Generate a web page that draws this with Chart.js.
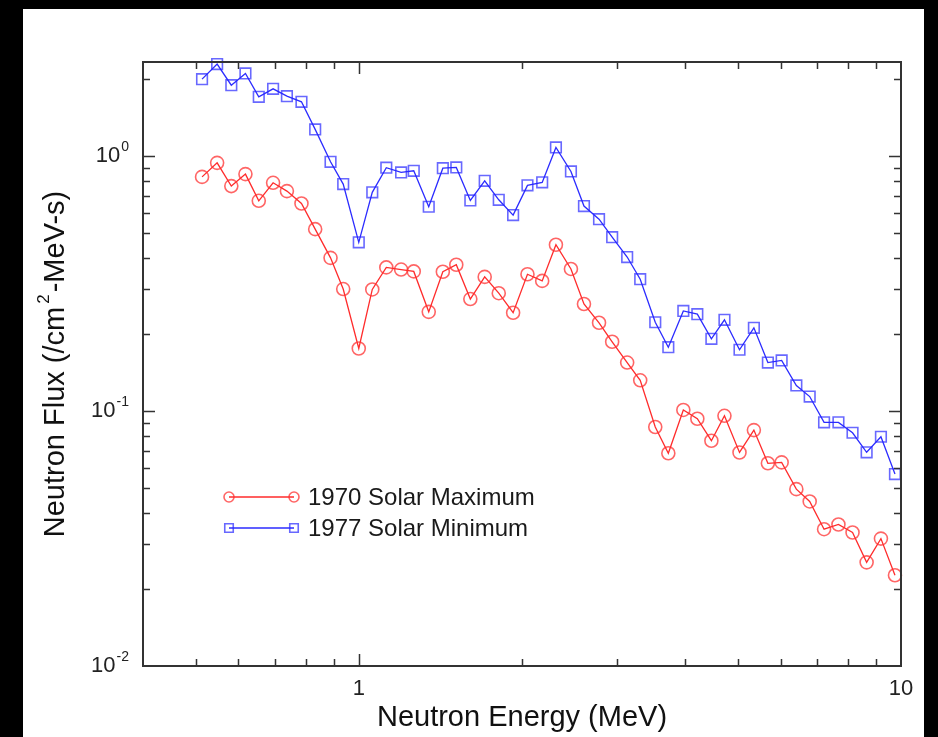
<!DOCTYPE html>
<html>
<head>
<meta charset="utf-8">
<script src="https://cdn.jsdelivr.net/npm/chart.js@4.4.0/dist/chart.umd.min.js"></script>
<style>
  html, body { margin: 0; padding: 0; background: #000; }
</style>
</head>
<body>
<canvas id="js-canvas-flux" width="938" height="737"></canvas>
<script>
// neutron energy bins (MeV)
const energies = [
  0.514, 0.548, 0.582, 0.618, 0.654, 0.695, 0.737, 0.784, 0.831, 0.887,
  0.936, 1.0, 1.059, 1.124, 1.197, 1.263, 1.346, 1.429, 1.513, 1.606,
  1.707, 1.812, 1.926, 2.047, 2.179, 2.310, 2.462, 2.602, 2.774, 2.933,
  3.126, 3.304, 3.522, 3.723, 3.968, 4.211, 4.470, 4.725, 5.037, 5.354,
  5.682, 6.024, 6.412, 6.786, 7.213, 7.667, 8.140, 8.642, 9.183, 9.747
];

const solarMax1970 = [
  0.829, 0.941, 0.763, 0.850, 0.668, 0.786, 0.729, 0.652, 0.517, 0.399,
  0.301, 0.176, 0.300, 0.366, 0.359, 0.353, 0.245, 0.352, 0.375, 0.275,
  0.336, 0.290, 0.243, 0.344, 0.324, 0.449, 0.361, 0.263, 0.222, 0.187,
  0.155, 0.132, 0.0866, 0.0683, 0.101, 0.0933, 0.0765, 0.0958, 0.0688, 0.0842,
  0.0624, 0.0629, 0.0494, 0.0442, 0.0344, 0.0359, 0.0334, 0.0255, 0.0316, 0.0227
];

const solarMin1977 = [
  2.004, 2.296, 1.898, 2.110, 1.708, 1.836, 1.719, 1.633, 1.273, 0.950,
  0.777, 0.459, 0.721, 0.901, 0.863, 0.876, 0.633, 0.897, 0.903, 0.670,
  0.800, 0.674, 0.587, 0.768, 0.789, 1.082, 0.871, 0.637, 0.566, 0.481,
  0.402, 0.329, 0.223, 0.178, 0.247, 0.240, 0.192, 0.228, 0.174, 0.212,
  0.155, 0.158, 0.126, 0.114, 0.0903, 0.0903, 0.0822, 0.0689, 0.0793, 0.0566
];

const seriesLabels = ['1970 Solar Maximum', '1977 Solar Minimum'];
const xTickValues = [1, 10];
const xTickLabels = ['1', '10'];
const yTickValues = [1, 0.1, 0.01];
const yTickExponents = ['0', '-1', '-2'];

const FONT = '"Liberation Sans", Arial, Helvetica, sans-serif';

function toPoints(xs, ys) {
  return xs.map((x, i) => ({ x: x, y: ys[i] }));
}

// minor/major log ticks between min and max
function logTicks(min, max) {
  const out = [];
  for (let d = Math.pow(10, Math.floor(Math.log10(min))); d <= max; d *= 10) {
    for (let k = 1; k <= 9; k++) {
      const v = k * d;
      if (v > min * 1.0001 && v < max * 0.9999) out.push({ v: v, major: k === 1 });
    }
  }
  return out;
}

const framePlugin = {
  id: 'frame',
  beforeDraw(chart) {
    const ctx = chart.ctx;
    ctx.save();
    ctx.fillStyle = '#000';
    ctx.fillRect(0, 0, chart.width, chart.height);
    ctx.fillStyle = '#fff';
    ctx.fillRect(23, 9, 901, 728);
    ctx.restore();
  },
  afterDraw(chart) {
    const ctx = chart.ctx;
    const a = chart.chartArea;
    const xs = chart.scales.x;
    const ys = chart.scales.y;
    ctx.save();

    // box
    ctx.strokeStyle = '#333';
    ctx.lineWidth = 2;
    ctx.strokeRect(a.left, a.top, a.right - a.left, a.bottom - a.top);

    // inward ticks
    ctx.lineWidth = 1.5;
    ctx.beginPath();
    logTicks(xs.min, xs.max).forEach(t => {
      const px = Math.round(xs.getPixelForValue(t.v)) + 0.5;
      const len = t.major ? 12 : 7;
      ctx.moveTo(px, a.bottom); ctx.lineTo(px, a.bottom - len);
      ctx.moveTo(px, a.top); ctx.lineTo(px, a.top + len);
    });
    logTicks(ys.min, ys.max).forEach(t => {
      const py = Math.round(ys.getPixelForValue(t.v)) + 0.5;
      const len = t.major ? 12 : 7;
      ctx.moveTo(a.left, py); ctx.lineTo(a.left + len, py);
      ctx.moveTo(a.right, py); ctx.lineTo(a.right - len, py);
    });
    ctx.stroke();

    // tick labels
    ctx.fillStyle = '#222';
    ctx.font = '22px ' + FONT;
    ctx.textAlign = 'center';
    ctx.textBaseline = 'middle';
    xTickValues.forEach((v, i) => {
      ctx.fillText(xTickLabels[i], xs.getPixelForValue(v), 689);
    });
    yTickValues.forEach((v, i) => {
      const py = ys.getPixelForValue(v);
      ctx.font = '14px ' + FONT;
      const ew = ctx.measureText(yTickExponents[i]).width;
      ctx.textAlign = 'left';
      ctx.fillText(yTickExponents[i], 129 - ew, py - 9);
      ctx.font = '22px ' + FONT;
      ctx.textAlign = 'right';
      ctx.fillText('10', 129 - ew - 1, py);
    });

    // axis titles
    ctx.fillStyle = '#111';
    ctx.font = '29px ' + FONT;
    ctx.textAlign = 'center';
    ctx.fillText('Neutron Energy (MeV)', (a.left + a.right) / 2, 718);

    ctx.save();
    ctx.translate(56, (a.top + a.bottom) / 2);
    ctx.rotate(-Math.PI / 2);
    const p1 = 'Neutron Flux (/cm';
    const p2 = '-MeV-s)';
    ctx.font = '29px ' + FONT;
    const w1 = ctx.measureText(p1).width;
    const w3 = ctx.measureText(p2).width;
    ctx.font = '17px ' + FONT;
    const w2 = ctx.measureText('2').width + 5;
    let x0 = -(w1 + w2 + w3) / 2;
    ctx.textAlign = 'left';
    ctx.font = '29px ' + FONT;
    ctx.fillText(p1, x0, 0);
    ctx.font = '17px ' + FONT;
    ctx.fillText('2', x0 + w1 + 3, -12);
    ctx.font = '29px ' + FONT;
    ctx.fillText(p2, x0 + w1 + w2, 0);
    ctx.restore();

    // legend
    const rows = [497, 528];
    chart.data.datasets.forEach((ds, i) => {
      const y = rows[i];
      ctx.strokeStyle = ds.borderColor;
      ctx.lineWidth = ds.borderWidth;
      ctx.beginPath();
      ctx.moveTo(229, y); ctx.lineTo(294, y);
      ctx.stroke();
      [229, 294].forEach(x => {
        ctx.fillStyle = 'rgba(255,255,255,0)';
        ctx.strokeStyle = ds.pointBorderColor;
        ctx.lineWidth = ds.pointBorderWidth;
        Chart.helpers.drawPoint(ctx, { pointStyle: ds.pointStyle, radius: ds.pointRadius - 1.5, rotation: 0, borderWidth: ds.pointBorderWidth }, x, y);
      });
      ctx.fillStyle = '#1a1a1a';
      ctx.font = '24px ' + FONT;
      ctx.textAlign = 'left';
      ctx.textBaseline = 'middle';
      ctx.fillText(seriesLabels[i], 308, y + 1);
    });

    ctx.restore();
  }
};

const ctx = document.getElementById('js-canvas-flux');
const fluxChart = new Chart(ctx, {
  type: 'line',
  data: {
    datasets: [
      {
        label: seriesLabels[0],
        data: toPoints(energies, solarMax1970),
        borderColor: 'rgba(255, 20, 20, 0.9)',
        borderWidth: 1.3,
        pointStyle: 'circle',
        pointRadius: 6.5,
        pointBorderColor: 'rgba(255, 50, 50, 0.75)',
        pointBorderWidth: 1.6,
        pointBackgroundColor: 'rgba(0,0,0,0)',
        tension: 0,
        clip: false
      },
      {
        label: seriesLabels[1],
        data: toPoints(energies, solarMin1977),
        borderColor: 'rgba(20, 20, 255, 0.9)',
        borderWidth: 1.3,
        pointStyle: 'rect',
        pointRadius: 7.5,
        pointBorderColor: 'rgba(40, 40, 255, 0.7)',
        pointBorderWidth: 1.6,
        pointBackgroundColor: 'rgba(0,0,0,0)',
        tension: 0,
        clip: false
      }
    ]
  },
  options: {
    responsive: false,
    animation: false,
    devicePixelRatio: 1,
    layout: { padding: { left: 0, top: 62, right: 37, bottom: 0 } },
    plugins: { legend: { display: false }, tooltip: { enabled: false } },
    scales: {
      x: {
        type: 'logarithmic',
        min: 0.4,
        max: 10,
        grid: { display: false },
        border: { display: false },
        ticks: { display: false },
        afterFit(s) { s.height = 71; }
      },
      y: {
        type: 'logarithmic',
        min: 0.01,
        max: 2.34,
        grid: { display: false },
        border: { display: false },
        ticks: { display: false },
        afterFit(s) { s.width = 143; }
      }
    }
  },
  plugins: [framePlugin]
});
</script>
</body>
</html>
